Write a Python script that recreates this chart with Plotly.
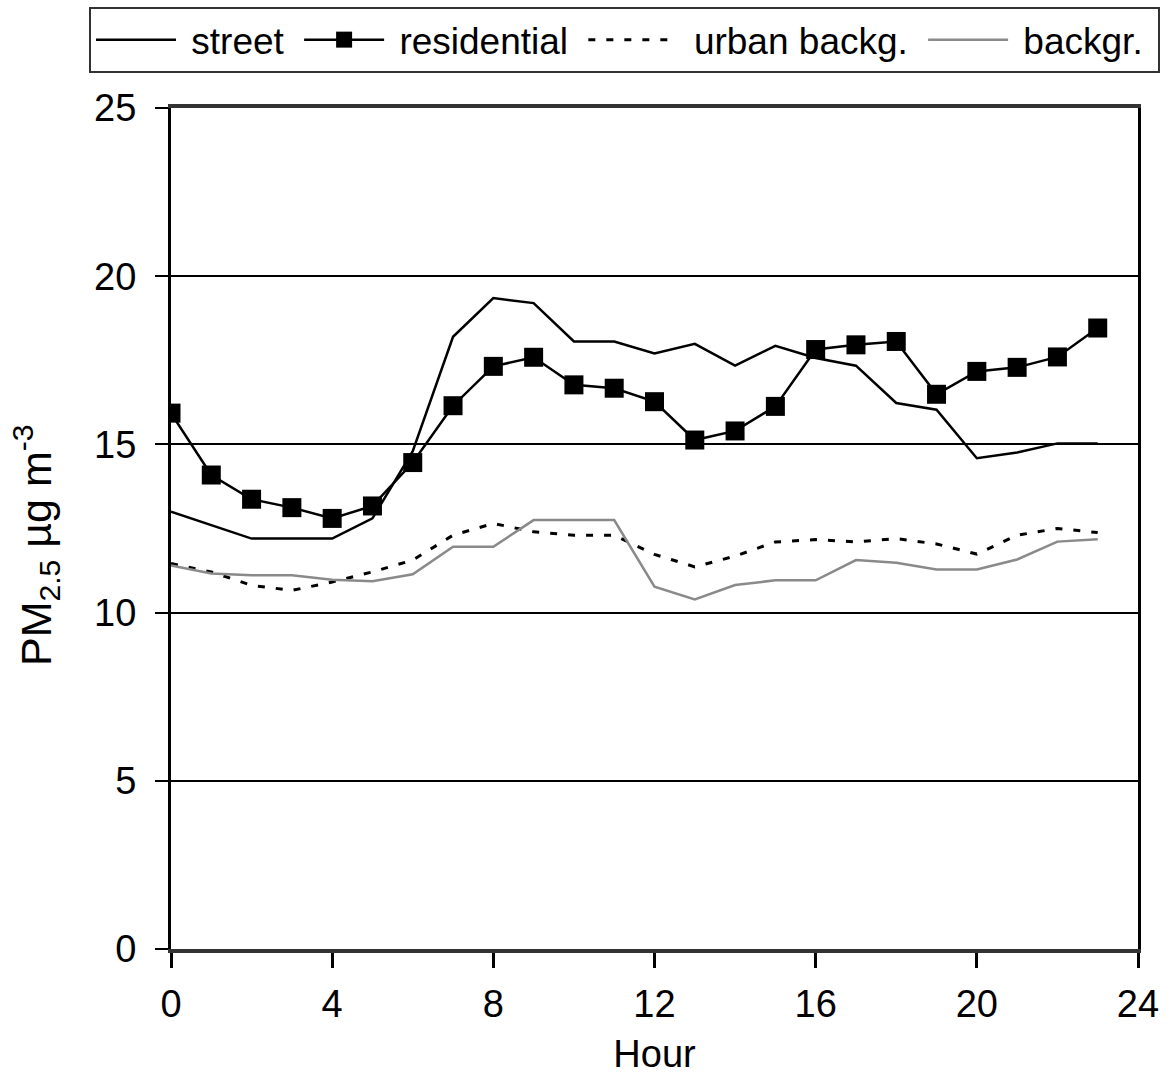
import plotly.graph_objects as go

# Hour of day (0-23)
hours = list(range(24))

# Mean hourly PM2.5 concentrations (µg m-3) by site type
street = [13.0, 12.6, 12.2, 12.2, 12.2, 12.8, 14.8, 18.2, 19.35, 19.2, 18.06, 18.06,
          17.7, 17.99, 17.34, 17.93, 17.57, 17.34, 16.23, 16.03, 14.59, 14.76, 15.03, 15.03]
residential = [15.93, 14.09, 13.37, 13.12, 12.80, 13.17, 14.46, 16.15, 17.32, 17.59, 16.77, 16.67,
               16.27, 15.13, 15.40, 16.13, 17.82, 17.96, 18.06, 16.49, 17.17, 17.29, 17.60, 18.46]
urban_backg = [11.46, 11.21, 10.81, 10.66, 10.91, 11.21, 11.56, 12.30, 12.65, 12.40, 12.30, 12.30,
               11.73, 11.36, 11.68, 12.10, 12.17, 12.10, 12.20, 12.04, 11.74, 12.30, 12.50, 12.38]
backgr = [11.40, 11.16, 11.11, 11.11, 10.98, 10.93, 11.14, 11.96, 11.96, 12.75, 12.75, 12.75,
          10.77, 10.39, 10.82, 10.96, 10.96, 11.56, 11.48, 11.28, 11.28, 11.58, 12.11, 12.18]

x_ticks = [0, 4, 8, 12, 16, 20, 24]
y_ticks = [0, 5, 10, 15, 20, 25]

FONT = "Liberation Sans, Arial, sans-serif"
SP = "\u00a0"

fig = go.Figure()
fig.add_trace(go.Scatter(x=hours, y=street, name=SP + "street" + SP, mode="lines",
                         line=dict(color="black", width=2.5)))
fig.add_trace(go.Scatter(x=hours, y=residential, name=SP + "residential" + SP,
                         mode="lines+markers", line=dict(color="black", width=2.5),
                         marker=dict(symbol="square", size=19, color="black")))
fig.add_trace(go.Scatter(x=hours, y=urban_backg, name=SP + SP + "urban backg." + SP,
                         mode="lines", line=dict(color="black", width=3, dash="7px,11px")))
fig.add_trace(go.Scatter(x=hours, y=backgr, name=SP + "backgr." + SP, mode="lines",
                         line=dict(color="#8a8a8a", width=2.5)))

fig.update_layout(
    width=1171, height=1075,
    margin=dict(l=171, r=33, t=108, b=126, autoexpand=False),
    paper_bgcolor="white", plot_bgcolor="white",
    font=dict(family=FONT, size=37, color="black"),
    showlegend=True,
    legend=dict(orientation="h", x=-0.0848, xanchor="left", y=1.12, yanchor="top",
                bordercolor="#333333", borderwidth=2, bgcolor="white",
                font=dict(size=37), itemwidth=80, tracegroupgap=0),
    xaxis=dict(range=[0, 24], tickvals=x_ticks, ticks="outside", ticklen=15,
               tickwidth=2.5, tickcolor="black", showgrid=False, zeroline=False,
               showline=True, linecolor="#333333", linewidth=3.5, mirror=True,
               ticklabelstandoff=4, automargin=False,
               title=dict(text="Hour", standoff=22, font=dict(size=38)),
               tickfont=dict(size=38)),
    yaxis=dict(range=[0, 25], tickvals=y_ticks, ticks="outside", ticklen=13,
               tickwidth=2, tickcolor="black", showgrid=True, gridcolor="black",
               gridwidth=1.5, zeroline=False, showline=True, linecolor="black",
               linewidth=3, mirror=True, ticklabelstandoff=11, automargin=False,
               tickfont=dict(size=38)),
    annotations=[dict(text="PM<sub>2.5</sub> µg m<sup>-3</sup>", textangle=-90,
                      xref="paper", yref="paper",
                      x=(36 - 171) / 967, y=(949 - 545) / 841,
                      xanchor="center", yanchor="middle", showarrow=False,
                      font=dict(size=43))],
)

fig.write_html("out.html")
